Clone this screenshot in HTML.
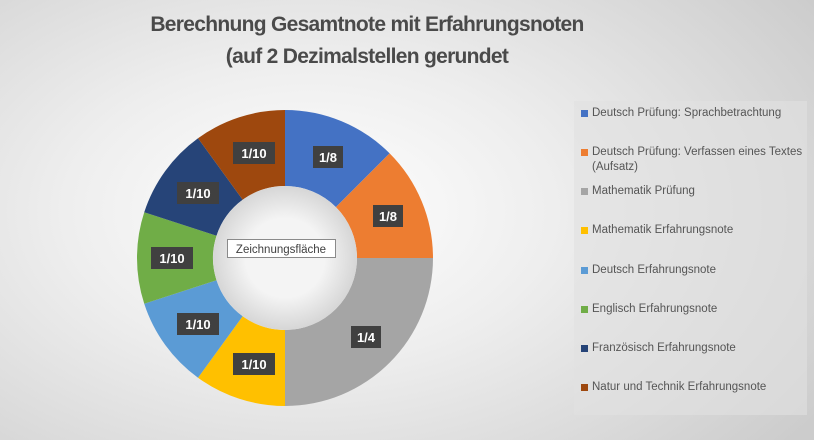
<!DOCTYPE html>
<html><head><meta charset="utf-8"><style>
html,body{margin:0;padding:0}
body{width:814px;height:440px;overflow:hidden;position:relative;font-family:"Liberation Sans",sans-serif;
background:radial-gradient(ellipse 75% 85% at 38% 48%,#ffffff 0%,#eeeeee 40%,#cccccc 100%);}
.title{position:absolute;left:0;width:734px;text-align:center;color:#4a4a4a;font-weight:bold;font-size:21px;letter-spacing:-0.7px}
.leg{position:absolute;left:574px;top:101px;width:233px;height:314px;background:rgba(225,225,225,0.6)}
.li{position:absolute;left:18px;font-size:11.5px;color:#555;line-height:15px;width:214px}
.li i{position:absolute;left:-11px;top:4px;width:7px;height:7px}
</style></head><body>
<div class="title" style="top:13px">Berechnung Gesamtnote mit Erfahrungsnoten</div>
<div class="title" style="top:45px">(auf 2 Dezimalstellen gerundet</div>
<svg width="814" height="440" style="position:absolute;left:0;top:0">
<defs><radialGradient id="hole"><stop offset="0.55" stop-color="#f4f4f4"/><stop offset="1" stop-color="#d6d6d6"/></radialGradient></defs>
<path d="M285,110 A148,148 0 0 1 389.65,153.35 L335.91,207.09 A72,72 0 0 0 285,186Z" fill="#4472c4"/>
<path d="M389.65,153.35 A148,148 0 0 1 433,258 L357,258 A72,72 0 0 0 335.91,207.09Z" fill="#ed7d31"/>
<path d="M433,258 A148,148 0 0 1 285,406 L285,330 A72,72 0 0 0 357,258Z" fill="#a5a5a5"/>
<path d="M285,406 A148,148 0 0 1 198.01,377.73 L242.68,316.25 A72,72 0 0 0 285,330Z" fill="#ffc000"/>
<path d="M198.01,377.73 A148,148 0 0 1 144.24,303.73 L216.52,280.25 A72,72 0 0 0 242.68,316.25Z" fill="#5b9bd5"/>
<path d="M144.24,303.73 A148,148 0 0 1 144.24,212.27 L216.52,235.75 A72,72 0 0 0 216.52,280.25Z" fill="#70ad47"/>
<path d="M144.24,212.27 A148,148 0 0 1 198.01,138.27 L242.68,199.75 A72,72 0 0 0 216.52,235.75Z" fill="#264478"/>
<path d="M198.01,138.27 A148,148 0 0 1 285,110 L285,186 A72,72 0 0 0 242.68,199.75Z" fill="#9e480e"/>
<circle cx="285" cy="258" r="72" fill="url(#hole)"/>
<g font-family="Liberation Sans,sans-serif" font-weight="bold" font-size="13" fill="#fff" text-anchor="middle">
<rect x="313" y="146" width="30" height="22" fill="#404040"/><text x="328" y="162">1/8</text>
<rect x="373" y="205" width="30" height="22" fill="#404040"/><text x="388" y="221">1/8</text>
<rect x="351" y="326" width="30" height="22" fill="#404040"/><text x="366" y="342">1/4</text>
<rect x="233" y="353" width="42" height="22" fill="#404040"/><text x="254" y="369">1/10</text>
<rect x="177" y="313" width="42" height="22" fill="#404040"/><text x="198" y="329">1/10</text>
<rect x="151" y="247" width="42" height="22" fill="#404040"/><text x="172" y="263">1/10</text>
<rect x="177" y="182" width="42" height="22" fill="#404040"/><text x="198" y="198">1/10</text>
<rect x="233" y="142" width="42" height="22" fill="#404040"/><text x="254" y="158">1/10</text>
</g>
<rect x="227.5" y="239.5" width="108" height="18" fill="#fff" stroke="#8a8a8a"/>
<text x="281" y="253" font-family="Liberation Sans,sans-serif" font-size="11.5" fill="#404040" text-anchor="middle">Zeichnungsfläche</text>
</svg>
<div class="leg">
<div class="li" style="top:5px"><i style="background:#4472c4"></i>Deutsch Prüfung: Sprachbetrachtung</div>
<div class="li" style="top:44px"><i style="background:#ed7d31"></i>Deutsch Prüfung: Verfassen eines Textes<br>(Aufsatz)</div>
<div class="li" style="top:83px"><i style="background:#a5a5a5"></i>Mathematik Prüfung</div>
<div class="li" style="top:122px"><i style="background:#ffc000"></i>Mathematik Erfahrungsnote</div>
<div class="li" style="top:162px"><i style="background:#5b9bd5"></i>Deutsch Erfahrungsnote</div>
<div class="li" style="top:201px"><i style="background:#70ad47"></i>Englisch Erfahrungsnote</div>
<div class="li" style="top:240px"><i style="background:#264478"></i>Französisch Erfahrungsnote</div>
<div class="li" style="top:279px"><i style="background:#9e480e"></i>Natur und Technik Erfahrungsnote</div>
</div>
</body></html>
